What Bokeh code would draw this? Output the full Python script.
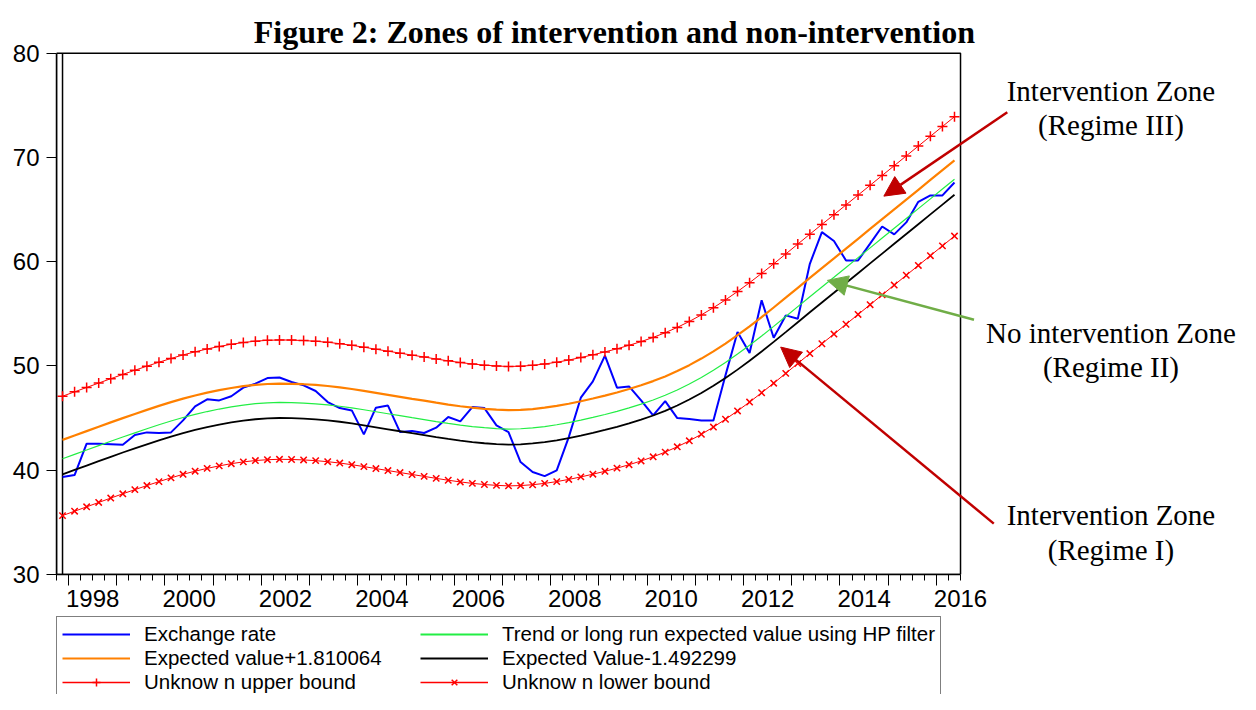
from bokeh.plotting import figure
from bokeh.layouts import column
from bokeh.models import (Range1d, LinearAxis, FixedTicker, Label, Arrow,
                          NormalHead, Legend, LegendItem)
from bokeh.embed import file_html
from bokeh.resources import INLINE

# ---------------- data (quarterly, 1997Q4 - 2016Q2) ----------------
quarters = []
_y, _q = 1997, 4
for _ in range(75):
    quarters.append(f"{_y}Q{_q}")
    _q += 1
    if _q == 5:
        _y, _q = _y + 1, 1

exchange_rate = [
    39.35, 39.54, 42.55, 42.55, 42.50, 42.45, 43.38, 43.63, 43.57, 43.63,
    44.78, 46.13, 46.80, 46.70, 47.10, 47.92, 48.30, 48.84, 48.90, 48.46,
    48.14, 47.60, 46.54, 45.96, 45.74, 43.44, 46.00, 46.20, 43.66, 43.76,
    43.57, 44.08, 45.10, 44.69, 46.06, 45.96, 44.30, 43.66, 40.79, 39.83,
    39.44, 39.99, 43.18, 46.96, 48.52, 51.00, 47.92, 48.04, 46.70, 45.26,
    46.63, 45.00, 44.91, 44.78, 44.78, 49.10, 53.25, 51.24, 56.30, 52.71,
    54.85, 54.53, 59.80, 62.84, 61.98, 60.12, 60.12, 61.73, 63.38, 62.62,
    63.77, 65.75, 66.36, 66.36, 67.60]

hp_trend = [
    41.10, 41.52, 41.94, 42.36, 42.78, 43.19, 43.59, 43.98, 44.36, 44.72,
    45.06, 45.36, 45.63, 45.87, 46.08, 46.25, 46.38, 46.46, 46.50, 46.48,
    46.44, 46.37, 46.27, 46.14, 45.98, 45.80, 45.61, 45.42, 45.23, 45.04,
    44.86, 44.67, 44.49, 44.33, 44.19, 44.08, 44.00, 43.95, 43.98, 44.06,
    44.19, 44.36, 44.57, 44.81, 45.07, 45.35, 45.65, 45.98, 46.34, 46.74,
    47.19, 47.70, 48.27, 48.90, 49.59, 50.34, 51.14, 51.99, 52.88, 53.80,
    54.74, 55.69, 56.64, 57.58, 58.51, 59.45, 60.39, 61.33, 62.27, 63.21,
    64.15, 65.09, 66.03, 66.97, 67.91]

expected_plus = [
    42.91, 43.33, 43.75, 44.17, 44.59, 45.00, 45.40, 45.79, 46.17, 46.53,
    46.87, 47.17, 47.44, 47.68, 47.89, 48.06, 48.19, 48.27, 48.31, 48.29,
    48.25, 48.18, 48.08, 47.95, 47.79, 47.61, 47.42, 47.23, 47.04, 46.85,
    46.67, 46.48, 46.30, 46.14, 46.00, 45.89, 45.81, 45.76, 45.79, 45.87,
    46.00, 46.17, 46.38, 46.62, 46.88, 47.16, 47.46, 47.79, 48.15, 48.55,
    49.00, 49.51, 50.08, 50.71, 51.40, 52.15, 52.95, 53.80, 54.69, 55.61,
    56.55, 57.50, 58.45, 59.39, 60.32, 61.26, 62.20, 63.14, 64.08, 65.02,
    65.96, 66.90, 67.84, 68.78, 69.72]

expected_minus = [
    39.61, 40.03, 40.45, 40.87, 41.29, 41.70, 42.10, 42.49, 42.87, 43.23,
    43.57, 43.87, 44.14, 44.38, 44.59, 44.76, 44.89, 44.97, 45.01, 44.99,
    44.95, 44.88, 44.78, 44.65, 44.49, 44.31, 44.12, 43.93, 43.74, 43.55,
    43.37, 43.18, 43.00, 42.84, 42.70, 42.59, 42.51, 42.46, 42.49, 42.57,
    42.70, 42.87, 43.08, 43.32, 43.58, 43.86, 44.16, 44.49, 44.85, 45.25,
    45.70, 46.21, 46.78, 47.41, 48.10, 48.85, 49.65, 50.50, 51.39, 52.31,
    53.25, 54.20, 55.15, 56.09, 57.02, 57.96, 58.90, 59.84, 60.78, 61.72,
    62.66, 63.60, 64.54, 65.48, 66.42]

upper_bound = [
    47.10, 47.52, 47.94, 48.36, 48.78, 49.19, 49.59, 49.98, 50.36, 50.72,
    51.06, 51.36, 51.63, 51.87, 52.08, 52.25, 52.38, 52.46, 52.50, 52.48,
    52.44, 52.37, 52.27, 52.14, 51.98, 51.80, 51.61, 51.42, 51.23, 51.04,
    50.86, 50.67, 50.49, 50.33, 50.19, 50.08, 50.00, 49.95, 49.98, 50.06,
    50.19, 50.36, 50.57, 50.81, 51.07, 51.35, 51.65, 51.98, 52.34, 52.74,
    53.19, 53.70, 54.27, 54.90, 55.59, 56.34, 57.14, 57.99, 58.88, 59.80,
    60.74, 61.69, 62.64, 63.58, 64.51, 65.45, 66.39, 67.33, 68.27, 69.21,
    70.15, 71.09, 72.03, 72.97, 73.91]

lower_bound = [
    35.65, 36.07, 36.49, 36.91, 37.33, 37.74, 38.14, 38.53, 38.91, 39.27,
    39.61, 39.91, 40.18, 40.42, 40.63, 40.80, 40.93, 41.01, 41.05, 41.03,
    40.99, 40.92, 40.82, 40.69, 40.53, 40.35, 40.16, 39.97, 39.78, 39.59,
    39.41, 39.22, 39.04, 38.88, 38.74, 38.63, 38.55, 38.50, 38.53, 38.61,
    38.74, 38.91, 39.12, 39.36, 39.62, 39.90, 40.20, 40.53, 40.89, 41.29,
    41.74, 42.25, 42.82, 43.45, 44.14, 44.89, 45.69, 46.54, 47.43, 48.35,
    49.29, 50.24, 51.19, 52.13, 53.06, 54.00, 54.94, 55.88, 56.82, 57.76,
    58.70, 59.64, 60.58, 61.52, 62.46]

year_labels = ["1998", "2000", "2002", "2004", "2006", "2008", "2010", "2012", "2014", "2016"]
y_ticks = [30, 40, 50, 60, 70, 80]

series_names = ["Exchange rate",
                "Trend or long run expected value using HP filter",
                "Expected value+1.810064",
                "Expected Value-1.492299",
                "Unknow n upper bound",
                "Unknow n lower bound"]

title_text = "Figure 2: Zones of intervention and non-intervention"
zone_texts = [("Intervention Zone", "(Regime III)"),
              ("No intervention Zone", "(Regime II)"),
              ("Intervention Zone", "(Regime I)")]

# position of each quarter: middle of the quarter, in decimal years
t = [int(s[:4]) + (int(s[-1]) - 1) * 0.25 + 0.125 for s in quarters]
x_lo, x_hi = t[0] - 0.125, t[-1] + 0.125          # 1997.75 .. 2016.5
y_lo, y_hi = y_ticks[0], y_ticks[-1]

SANS = "Liberation Sans"
SERIF = "Liberation Serif"
RED = "#FF0000"
BLUE = "#0000FF"
GREEN = "#22EE44"
ORANGE = "#FF8000"

# The frame is extended to the right and upwards so that the title,
# the zone labels and the arrows (drawn in data units) are not clipped.
p = figure(width=1240, height=616,
           x_range=Range1d(x_lo, 2022.307), y_range=Range1d(30, 85.054),
           x_axis_type=None, y_axis_type=None,
           output_backend="svg", toolbar_location=None,
           min_border_left=56, min_border_right=0,
           min_border_top=0, min_border_bottom=42)
p.outline_line_color = None
p.background_fill_color = "white"
p.border_fill_color = "white"

# y axis
yax = LinearAxis(ticker=FixedTicker(ticks=y_ticks, minor_ticks=[]),
                 bounds=(y_lo, y_hi),
                 major_tick_out=10, major_tick_in=0,
                 minor_tick_line_color=None,
                 major_label_text_font=SANS, major_label_text_font_size="24px",
                 major_label_text_color="black",
                 major_label_standoff=7, axis_line_color="black",
                 axis_line_width=1.5, major_tick_line_color="black")
p.add_layout(yax, "left")

# x axis: year ticks + quarter minor ticks (no labels)
xax1 = LinearAxis(ticker=FixedTicker(ticks=list(range(1998, 2017)),
                                     minor_ticks=[x_lo + 0.25 * k for k in range(76)]),
                  bounds=(x_lo, x_hi),
                  major_tick_out=11, major_tick_in=0,
                  minor_tick_out=6, minor_tick_in=0,
                  major_label_text_color=None, major_label_text_font_size="1px",
                  major_label_standoff=0, axis_line_color="black",
                  axis_line_width=1.5,
                  major_tick_line_color="black", minor_tick_line_color="black")
p.add_layout(xax1, "below")

# x axis labels centred in each labelled year
lab_pos = [int(s) + 0.5 for s in year_labels]
xax2 = LinearAxis(ticker=FixedTicker(ticks=lab_pos, minor_ticks=[]),
                  major_label_overrides={pos: s for pos, s in zip(lab_pos, year_labels)},
                  axis_line_color=None, major_tick_line_color=None,
                  minor_tick_line_color=None, major_tick_out=0, major_tick_in=0,
                  major_label_standoff=4,
                  major_label_text_font=SANS, major_label_text_font_size="24px",
                  major_label_text_color="black")
p.add_layout(xax2, "below")

# plot box and the vertical line at the first observation
p.quad(left=[x_lo], right=[x_hi], bottom=[y_lo], top=[y_hi],
       fill_color=None, line_color="black", line_width=1.5)
p.segment(x0=[t[0]], y0=[y_lo], x1=[t[0]], y1=[y_hi], line_color="black", line_width=1.5)


def draw_series(fig, thin=1.0):
    r = {}
    r["ex"] = fig.line(t, exchange_rate, line_color=BLUE, line_width=2)
    r["tr"] = fig.line(t, hp_trend, line_color=GREEN, line_width=1.2 * thin)
    r["ep"] = fig.line(t, expected_plus, line_color=ORANGE, line_width=2.2)
    r["em"] = fig.line(t, expected_minus, line_color="black", line_width=1.8)
    r["ub"] = fig.line(t, upper_bound, line_color=RED, line_width=1 * thin)
    r["ubm"] = fig.scatter(t, upper_bound, marker="cross", size=10, line_color=RED, line_width=1.5)
    r["lb"] = fig.line(t, lower_bound, line_color=RED, line_width=1 * thin)
    r["lbm"] = fig.scatter(t, lower_bound, marker="x", size=9, line_color=RED, line_width=1.5)
    return r


draw_series(p)

# title
p.add_layout(Label(x=2009.32, y=82.08, text=title_text, text_align="center",
                   text_baseline="alphabetic", text_font=SERIF,
                   text_font_size="32px", text_font_style="bold", text_color="black"))

# zone annotations
ann_x = 2019.62
for (l1, l2), (y1, y2) in zip(zone_texts, [(76.42, 73.07), (53.20, 49.89), (35.68, 32.32)]):
    for txt, yy in [(l1, y1), (l2, y2)]:
        p.add_layout(Label(x=ann_x, y=yy, text=txt, text_align="center",
                           text_baseline="alphabetic", text_font=SERIF,
                           text_font_size="29px", text_color="black"))

dark_red = "#C00000"
green_arrow = "#70AD47"
for (xs, ys, xe, ye, col) in [(2017.47, 74.34, 2014.91, 66.29, dark_red),
                              (2016.78, 54.44, 2013.74, 58.21, green_arrow),
                              (2017.19, 34.88, 2012.77, 51.81, dark_red)]:
    p.add_layout(Arrow(x_start=xs, y_start=ys, x_end=xe, y_end=ye,
                       line_color=col, line_width=2.5,
                       end=NormalHead(size=20, fill_color=col, line_color=col, line_width=1)))

# ---------------- legend (strip under the chart) ----------------
# same series drawn again, outside the visible ranges, only to feed the legend
lg = figure(width=1240, height=78, x_range=Range1d(0, 1), y_range=Range1d(0, 1),
            x_axis_type=None, y_axis_type=None, output_backend="svg",
            toolbar_location=None, min_border=0)
lg.outline_line_color = None
lg.background_fill_color = "white"
lg.border_fill_color = "white"
g = draw_series(lg, thin=1.6)

legend = Legend(items=[
    LegendItem(label=series_names[0], renderers=[g["ex"]]),
    LegendItem(label=series_names[1], renderers=[g["tr"]]),
    LegendItem(label=series_names[2], renderers=[g["ep"]]),
    LegendItem(label=series_names[3], renderers=[g["em"]]),
    LegendItem(label=series_names[4], renderers=[g["ub"], g["ubm"]]),
    LegendItem(label=series_names[5], renderers=[g["lb"], g["lbm"]]),
], location=(0, -6), orientation="horizontal", ncols=2,
    padding=5, spacing=0, margin=0,
    glyph_width=68, glyph_height=20, label_height=20, label_width=276,
    label_standoff=14, label_text_font=SANS, label_text_font_size="20.5px",
    label_text_color="black",
    border_line_color="black", border_line_width=1,
    background_fill_color="white", background_fill_alpha=1)
lg.add_layout(legend)

layout = column(p, lg, spacing=0)
open("out.html", "w").write(file_html(layout, INLINE))
